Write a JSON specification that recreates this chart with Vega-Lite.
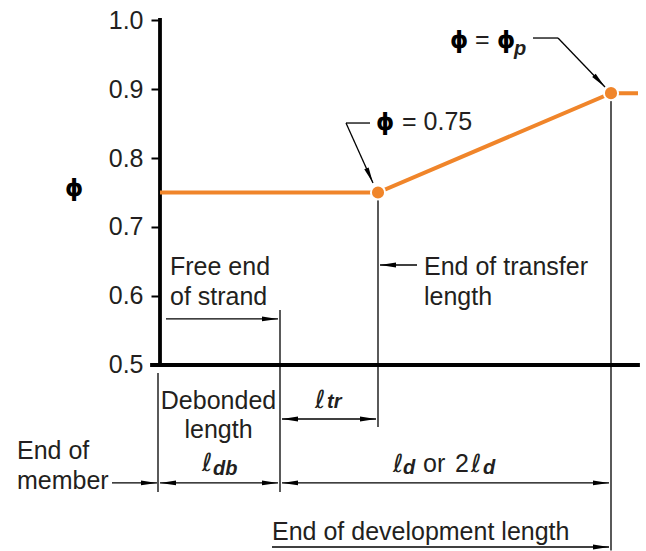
{
  "$schema": "https://vega.github.io/schema/vega-lite/v6.json",
  "width": 646,
  "height": 551,
  "autosize": "none",
  "padding": 0,
  "background": "white",
  "config": {"view": {"stroke": null}, "font": "Liberation Sans"},
  "datasets": {
    "thick": [
      {"x": 0, "y": 0.5, "x2": 0, "y2": 1.0},
      {"x": -4, "y": 0.5, "x2": 239, "y2": 0.5}
    ],
    "thin": [
      {"x": 60, "y": 0.5797, "x2": 60, "y2": 0.3159},
      {"x": -1, "y": 0.4884, "x2": -1, "y2": 0.3159},
      {"x": 109, "y": 0.75, "x2": 109, "y2": 0.4101},
      {"x": 225.5, "y": 0.894, "x2": 225.5, "y2": 0.231},
      {"x": 3, "y": 0.5667, "x2": 59, "y2": 0.5667},
      {"x": 110, "y": 0.6449, "x2": 128.5, "y2": 0.6449},
      {"x": 61, "y": 0.4217, "x2": 108, "y2": 0.4217},
      {"x": -24, "y": 0.329, "x2": -1.5, "y2": 0.329},
      {"x": 0, "y": 0.329, "x2": 59, "y2": 0.329},
      {"x": 61, "y": 0.329, "x2": 224.5, "y2": 0.329},
      {"x": 56, "y": 0.2362, "x2": 224.5, "y2": 0.2362},
      {"x": 93, "y": 0.8507, "x2": 105, "y2": 0.8507},
      {"x": 93, "y": 0.8507, "x2": 106.5, "y2": 0.7638},
      {"x": 186.5, "y": 0.9739, "x2": 199, "y2": 0.9739},
      {"x": 199, "y": 0.9739, "x2": 222.5, "y2": 0.9029}
    ],
    "phi": [
      {"x": 0, "y": 0.75},
      {"x": 109, "y": 0.75},
      {"x": 225.5, "y": 0.894},
      {"x": 239, "y": 0.894}
    ],
    "dots": [
      {"x": 109, "y": 0.75},
      {"x": 225.5, "y": 0.894}
    ],
    "headRight": [
      {"x": 59, "y": 0.5667},
      {"x": -1.5, "y": 0.329},
      {"x": 59, "y": 0.329},
      {"x": 108, "y": 0.4217},
      {"x": 224.5, "y": 0.329},
      {"x": 224.5, "y": 0.2362}
    ],
    "headLeft": [
      {"x": 110, "y": 0.6449},
      {"x": 0, "y": 0.329},
      {"x": 61, "y": 0.4217},
      {"x": 61, "y": 0.329}
    ],
    "headDiag1": [{"x": 106.5, "y": 0.7638}],
    "headDiag2": [{"x": 222.5, "y": 0.9029}],
    "regLeft": [
      {"x": 5, "y": 0.6304, "t": "Free end"},
      {"x": 5, "y": 0.587, "t": "of strand"},
      {"x": 132, "y": 0.6304, "t": "End of transfer"},
      {"x": 132, "y": 0.587, "t": "length"},
      {"x": -71.5, "y": 0.3638, "t": "End of"},
      {"x": -71.5, "y": 0.3203, "t": "member"},
      {"x": 56, "y": 0.2464, "t": "End of development length"},
      {"x": 121, "y": 0.8406, "t": "= 0.75"},
      {"x": 157.5, "y": 0.9594, "t": "="},
      {"x": 131.5, "y": 0.3449, "t": "or"},
      {"x": 147.5, "y": 0.3449, "t": "2"}
    ],
    "ell": [
      {"x": 77.5, "y": 0.4377, "t": "ℓ"},
      {"x": 21, "y": 0.3464, "t": "ℓ"},
      {"x": 116.5, "y": 0.3449, "t": "ℓ"},
      {"x": 155.5, "y": 0.3449, "t": "ℓ"}
    ],
    "regCenter": [
      {"x": 29.25, "y": 0.4362, "t": "Debonded"},
      {"x": 29.25, "y": 0.3942, "t": "length"}
    ],
    "boldLeft": [
      {"x": 108, "y": 0.8406, "t": "ϕ"},
      {"x": 145, "y": 0.9594, "t": "ϕ"},
      {"x": 168.5, "y": 0.9594, "t": "ϕ"},
      {"x": -47.5, "y": 0.7449, "t": "ϕ"}
    ],
    "boldItalic": [
      {"x": 83.5, "y": 0.4377, "t": "tr"},
      {"x": 26.5, "y": 0.3406, "t": "db"},
      {"x": 121.5, "y": 0.342, "t": "d"},
      {"x": 161.5, "y": 0.342, "t": "d"},
      {"x": 177, "y": 0.9487, "t": "p"}
    ]
  },
  "encoding": {
    "x": {"field": "x", "type": "quantitative", "scale": {"domain": [-80, 243], "nice": false, "zero": false}, "axis": null},
    "y": {
      "field": "y", "type": "quantitative",
      "scale": {"domain": [0.2304, 1.029], "nice": false, "zero": false},
      "axis": {
        "title": null, "offset": -160, "values": [0.5, 0.6, 0.7, 0.8, 0.9, 1.0], "format": ".1f",
        "domain": false, "grid": false, "tickSize": 9, "tickWidth": 2, "tickColor": "black",
        "labelFontSize": 25, "labelColor": "#231F20", "labelFont": "Liberation Sans", "labelPadding": 8
      }
    }
  },
  "layer": [
    {
      "data": {"name": "thin"},
      "mark": {"type": "rule", "color": "black", "strokeWidth": 1.3},
      "encoding": {"x2": {"field": "x2"}, "y2": {"field": "y2"}}
    },
    {
      "data": {"name": "thick"},
      "mark": {"type": "rule", "color": "black", "strokeWidth": 3.8, "strokeCap": "square"},
      "encoding": {"x2": {"field": "x2"}, "y2": {"field": "y2"}}
    },
    {
      "data": {"name": "phi"},
      "mark": {"type": "line", "color": "#F0852A", "strokeWidth": 4},
      "encoding": {}
    },
    {
      "data": {"name": "dots"},
      "mark": {"type": "point", "filled": true, "fill": "#F0852A", "stroke": "white", "strokeWidth": 2, "size": 200, "opacity": 1},
      "encoding": {}
    },
    {
      "data": {"name": "headRight"},
      "mark": {"type": "point", "shape": "M0,0L-2,-0.3L-2,0.3Z", "filled": true, "color": "black", "size": 256, "opacity": 1, "angle": 0},
      "encoding": {}
    },
    {
      "data": {"name": "headLeft"},
      "mark": {"type": "point", "shape": "M0,0L-2,-0.3L-2,0.3Z", "filled": true, "color": "black", "size": 256, "opacity": 1, "angle": 180},
      "encoding": {}
    },
    {
      "data": {"name": "headDiag1"},
      "mark": {"type": "point", "shape": "M0,0L-2,-0.3L-2,0.3Z", "filled": true, "color": "black", "size": 256, "opacity": 1, "angle": 65.8},
      "encoding": {}
    },
    {
      "data": {"name": "headDiag2"},
      "mark": {"type": "point", "shape": "M0,0L-2,-0.3L-2,0.3Z", "filled": true, "color": "black", "size": 256, "opacity": 1, "angle": 46.2},
      "encoding": {}
    },
    {
      "data": {"name": "regLeft"},
      "mark": {"type": "text", "align": "left", "baseline": "alphabetic", "fontSize": 25, "font": "Liberation Sans", "color": "#231F20"},
      "encoding": {"text": {"field": "t"}}
    },
    {
      "data": {"name": "ell"},
      "mark": {"type": "text", "align": "left", "baseline": "alphabetic", "fontSize": 25, "font": "DejaVu Sans", "color": "#231F20"},
      "encoding": {"text": {"field": "t"}}
    },
    {
      "data": {"name": "regCenter"},
      "mark": {"type": "text", "align": "center", "baseline": "alphabetic", "fontSize": 25, "font": "Liberation Sans", "color": "#231F20"},
      "encoding": {"text": {"field": "t"}}
    },
    {
      "data": {"name": "boldLeft"},
      "mark": {"type": "text", "align": "left", "baseline": "alphabetic", "fontSize": 23, "fontWeight": "bold", "font": "DejaVu Sans", "color": "black"},
      "encoding": {"text": {"field": "t"}}
    },
    {
      "data": {"name": "boldItalic"},
      "mark": {"type": "text", "align": "left", "baseline": "alphabetic", "fontSize": 20, "fontWeight": "bold", "fontStyle": "italic", "font": "Liberation Sans", "color": "#231F20"},
      "encoding": {"text": {"field": "t"}}
    }
  ]
}
